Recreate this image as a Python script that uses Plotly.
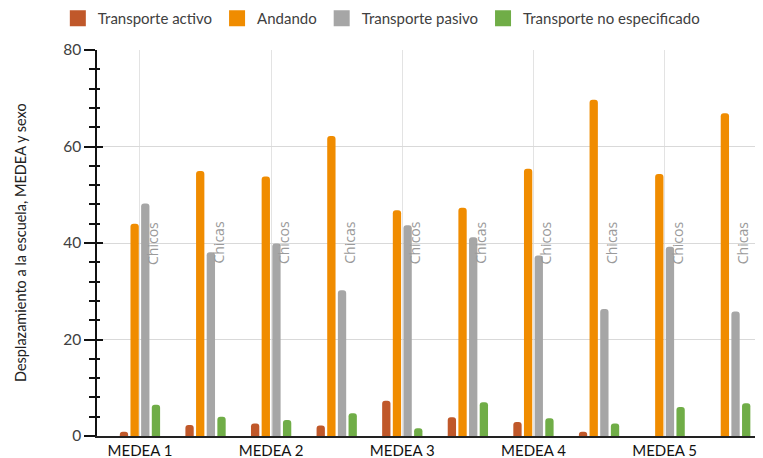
import plotly.graph_objects as go

# ---- data ----
medea_labels = ["MEDEA 1", "MEDEA 2", "MEDEA 3", "MEDEA 4", "MEDEA 5"]
sex_labels = ["Chicos", "Chicas"] * 5
series_names = ["Transporte activo", "Andando", "Transporte pasivo", "Transporte no especificado"]
transporte_activo = [0.9, 2.3, 2.6, 2.2, 7.3, 3.9, 2.9, 0.9, 0, 0]
andando = [44.0, 54.9, 53.8, 62.2, 46.8, 47.3, 55.4, 69.7, 54.3, 66.9]
transporte_pasivo = [48.2, 38.1, 39.9, 30.2, 43.7, 41.2, 37.4, 26.3, 39.2, 25.8]
no_especificado = [6.5, 4.0, 3.3, 4.7, 1.6, 7.0, 3.7, 2.6, 6.0, 6.8]
colors = ["#C0582A", "#F08C00", "#A6A6A6", "#70AD47"]
y_ticks = [0, 20, 40, 60, 80]
y_title = "Desplazamiento a la escuela, MEDEA y sexo"

positions = list(range(len(sex_labels)))
series_values = [transporte_activo, andando, transporte_pasivo, no_especificado]

fig = go.Figure()
for name, vals, col in zip(series_names, series_values, colors):
    fig.add_trace(go.Bar(x=positions, y=vals, name=name, marker_color=col,
                         marker_line_width=0, showlegend=False, legendgroup=name))
# legend entries with larger square swatches
for name, col in zip(series_names, colors):
    fig.add_trace(go.Scatter(x=[None], y=[None], name=name, mode="markers",
                             marker=dict(symbol="square", size=16, color=col),
                             legendgroup=name, hoverinfo="skip"))

# dummy trace to host the secondary (inside-tick) y axis
fig.add_trace(go.Scatter(x=[None], y=[None], yaxis="y2", showlegend=False,
                         hoverinfo="skip"))

# Chicos / Chicas labels
for p, lab in zip(positions, sex_labels):
    fig.add_annotation(x=p, y=40, text=lab, textangle=-90, showarrow=False,
                       xshift=12, font=dict(family="Open Sans", size=14, color="#9a9a9a"))

font_main = "Lato"
# y axis title
fig.add_annotation(x=-0.1156, y=0.5, xref="paper", yref="paper", text=y_title,
                   textangle=-90, showarrow=False, xanchor="center", yanchor="middle",
                   font=dict(family=font_main, size=14.5, color="#222222"))

# page body has an 8px margin, so the figure is 8px smaller in each direction
fig.update_layout(
    width=755, height=450,
    margin=dict(l=89, r=0, t=42, b=22, autoexpand=False),
    plot_bgcolor="white", paper_bgcolor="white",
    barmode="group", bargap=0.35, bargroupgap=0.22,
    barcornerradius=3,
    font=dict(family=font_main, size=14, color="#404040"),
    legend=dict(orientation="h", xref="container", yref="paper",
                x=0.066, xanchor="left", y=1.0816, yanchor="middle",
                font=dict(family=font_main, size=15, color="#404040"),
                itemwidth=30, traceorder="normal"),
    xaxis=dict(range=[-0.655, 9.5], tickvals=positions[::2], ticktext=medea_labels,
               showgrid=True, gridcolor="#e3e3e3", gridwidth=1,
               showline=True, linecolor="#222222", linewidth=1.5,
               ticks="", tickfont=dict(family=font_main, size=15, color="#111111"),
               zeroline=False, automargin=False),
    yaxis=dict(range=[0, 80], tickvals=y_ticks, showgrid=True, gridcolor="#d9d9d9",
               gridwidth=1, showline=True, linecolor="#111111", linewidth=1.5,
               ticks="outside", ticklen=11, tickwidth=1.5, tickcolor="#111111",
               minor=dict(dtick=4, ticks="outside", ticklen=6, tickwidth=1.5,
                          tickcolor="#111111", showgrid=False),
               tickfont=dict(family=font_main, size=15.5, color="#404040"),
               zeroline=False, automargin=False),
    yaxis2=dict(range=[0, 80], overlaying="y", side="left", tickvals=y_ticks,
                showgrid=False, showline=False, showticklabels=False,
                ticks="inside", ticklen=6, tickwidth=1.5, tickcolor="#111111",
                minor=dict(dtick=4, ticks="inside", ticklen=3, tickwidth=1.5,
                           tickcolor="#111111", showgrid=False),
                zeroline=False, automargin=False),
)

fig.write_html("out.html")
